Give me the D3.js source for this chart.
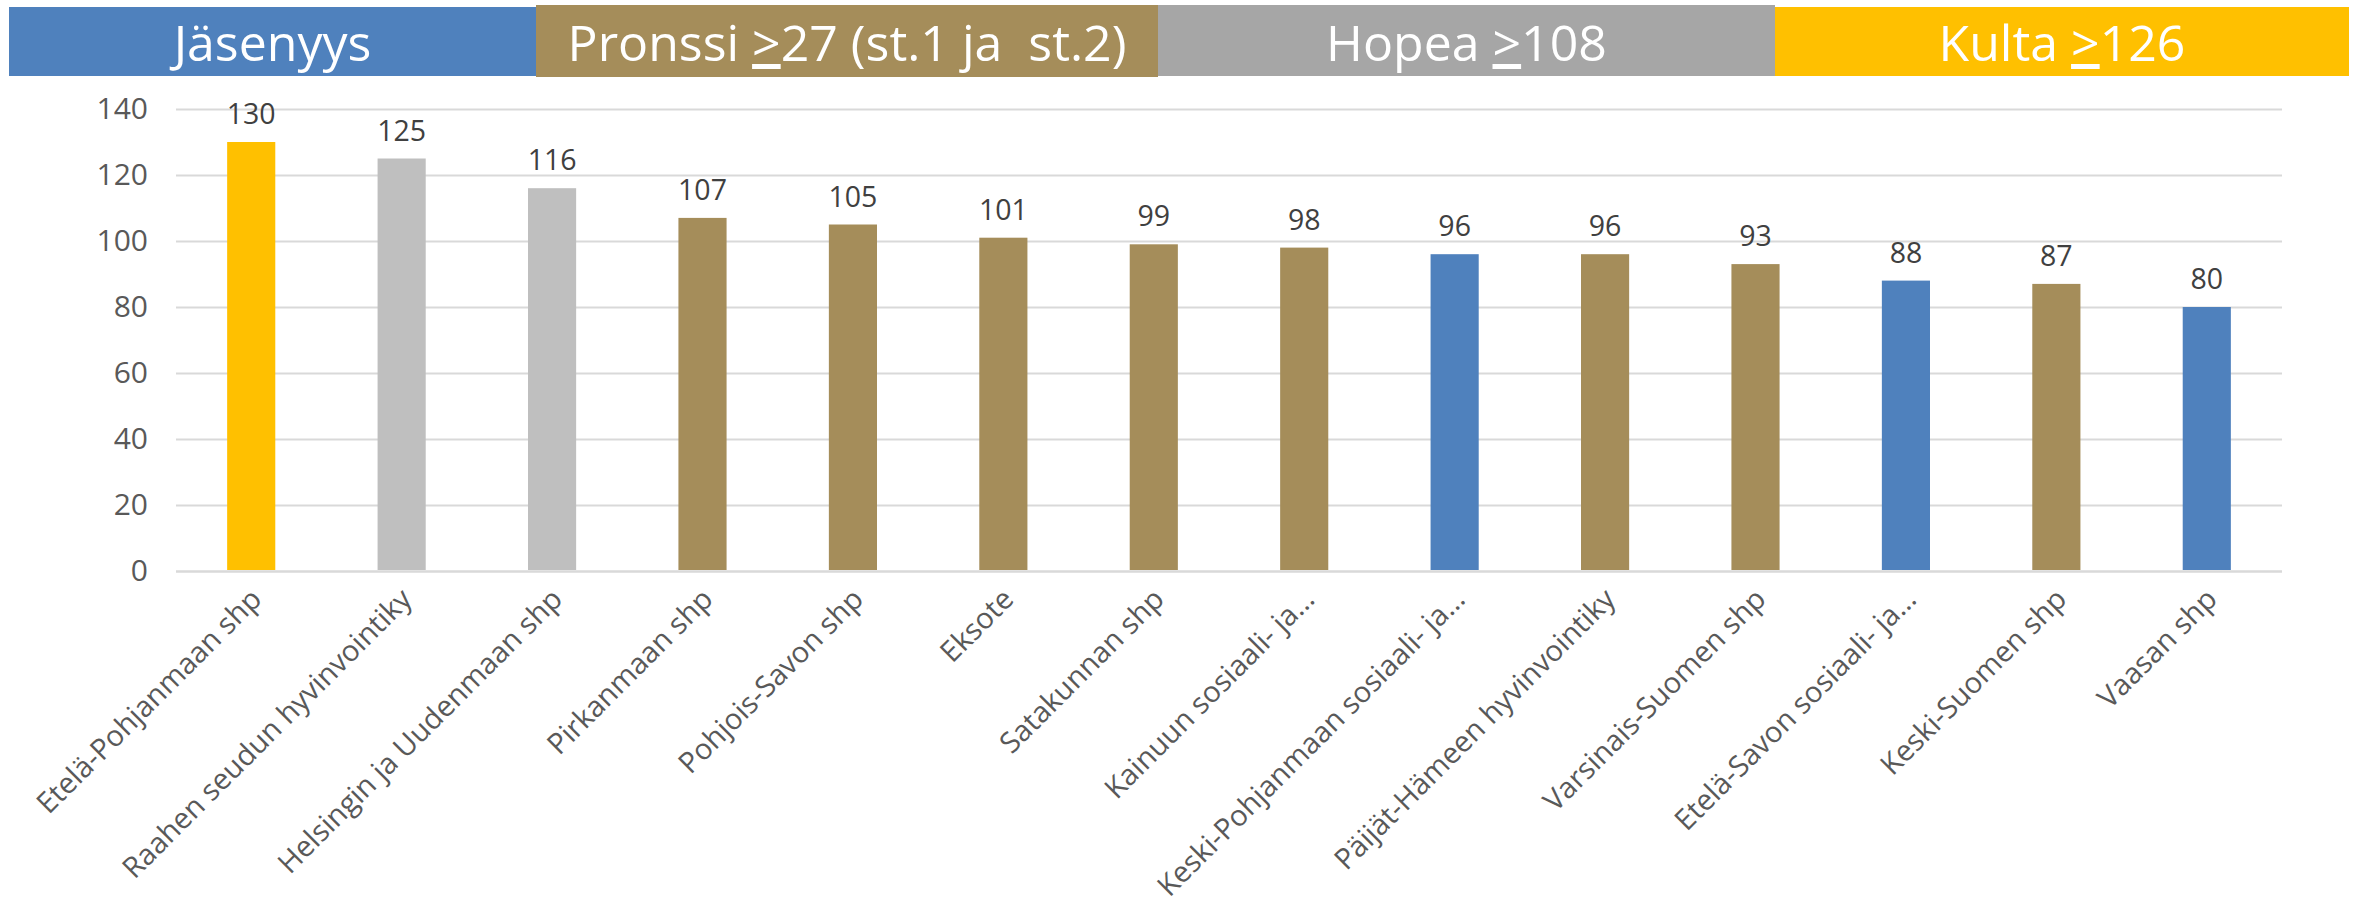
<!DOCTYPE html>
<html>
<head>
<meta charset="utf-8">
<script src="https://cdn.jsdelivr.net/npm/d3@7"></script>
<style>
  html, body { margin: 0; padding: 0; background: #ffffff; }
  svg { display: block; font-family: "Open Sans", "DejaVu Sans", sans-serif; }
</style>
</head>
<body>
<svg id="chart" width="2359" height="904"></svg>
<script>
// ---- data ----
const categories = [
  "Etelä-Pohjanmaan shp",
  "Raahen seudun hyvinvointiky",
  "Helsingin ja Uudenmaan shp",
  "Pirkanmaan shp",
  "Pohjois-Savon shp",
  "Eksote",
  "Satakunnan shp",
  "Kainuun sosiaali- ja…",
  "Keski-Pohjanmaan sosiaali- ja…",
  "Päijät-Hämeen hyvinvointiky",
  "Varsinais-Suomen shp",
  "Etelä-Savon sosiaali- ja…",
  "Keski-Suomen shp",
  "Vaasan shp"
];
const values = [130, 125, 116, 107, 105, 101, 99, 98, 96, 96, 93, 88, 87, 80];
const levels = ["Kulta", "Hopea", "Hopea", "Pronssi", "Pronssi", "Pronssi", "Pronssi",
                "Pronssi", "Jäsenyys", "Pronssi", "Pronssi", "Jäsenyys", "Pronssi", "Jäsenyys"];
const tickValues = [0, 20, 40, 60, 80, 100, 120, 140];

// header bands: level name, prefix, threshold, suffix
const headerLevels = ["Jäsenyys", "Pronssi", "Hopea", "Kulta"];
const headerPrefix = ["Jäsenyys", "Pronssi ", "Hopea ", "Kulta "];
const headerThreshold = ["", "27", "108", "126"];
const headerSuffix = ["", " (st.1 ja\u00A0\u00A0st.2)", "", ""];

// ---- styling / layout ----
const barColor = {
  "Kulta": "#FFC000",
  "Hopea": "#BFBFBF",
  "Pronssi": "#A58D5A",
  "Jäsenyys": "#4F81BD"
};
const headerColor = {
  "Jäsenyys": "#4F81BD",
  "Pronssi": "#A58D5A",
  "Hopea": "#A6A6A6",
  "Kulta": "#FFC000"
};
const headerBoxes = [
  { x0: 9, x1: 536, y0: 7, y1: 76 },
  { x0: 536, x1: 1158, y0: 5, y1: 77 },
  { x0: 1158, x1: 1775, y0: 5, y1: 76 },
  { x0: 1775, x1: 2349, y0: 7, y1: 76 }
];

const plotLeft = 176, plotRight = 2282, plotTop = 109, plotBottom = 571;

const svg = d3.select("#chart");

// header
const hdr = svg.append("g").attr("class", "header");
headerLevels.forEach((lv, i) => {
  const b = headerBoxes[i];
  hdr.append("rect")
    .attr("x", b.x0).attr("y", b.y0)
    .attr("width", b.x1 - b.x0).attr("height", b.y1 - b.y0)
    .attr("fill", headerColor[lv]);
  const t = hdr.append("text")
    .attr("x", (b.x0 + b.x1) / 2)
    .attr("y", 61)
    .attr("text-anchor", "middle")
    .attr("fill", "#ffffff")
    .attr("font-size", 50)
    .style("white-space", "pre");
  t.append("tspan").text(headerPrefix[i]);
  if (headerThreshold[i]) {
    t.append("tspan").attr("text-decoration", "underline").text(">");
    t.append("tspan").text(headerThreshold[i] + headerSuffix[i]);
  }
});

// scales
const x = d3.scaleBand()
  .domain(categories)
  .range([plotLeft, plotRight])
  .paddingInner(0.68)
  .paddingOuter(0.34);

const y = d3.scaleLinear()
  .domain([0, 140])
  .range([plotBottom, plotTop]);

// gridlines + y tick labels
const yAxis = d3.axisLeft(y)
  .tickValues(tickValues)
  .tickSize(-(plotRight - plotLeft))
  .tickPadding(28);

const gy = svg.append("g")
  .attr("transform", `translate(${plotLeft},0)`)
  .call(yAxis);
gy.select(".domain").remove();
gy.selectAll(".tick line")
  .attr("stroke", "#D9D9D9")
  .attr("stroke-width", d => d === 0 ? 2.5 : 2);
gy.selectAll(".tick text")
  .attr("fill", "#595959")
  .attr("font-size", 30)
  .attr("font-family", "'Open Sans', 'DejaVu Sans', sans-serif");

// bars
const data = categories.map((c, i) => ({ c, v: values[i], lv: levels[i] }));

svg.append("g").selectAll("rect")
  .data(data)
  .join("rect")
  .attr("x", d => x(d.c))
  .attr("y", d => y(d.v))
  .attr("width", x.bandwidth())
  .attr("height", d => y(0) - y(d.v) - 1)
  .attr("fill", d => barColor[d.lv]);

// value labels
svg.append("g").selectAll("text")
  .data(data)
  .join("text")
  .attr("x", d => x(d.c) + x.bandwidth() / 2)
  .attr("y", d => y(d.v) - 18)
  .attr("text-anchor", "middle")
  .attr("fill", "#404040")
  .attr("font-size", 28.5)
  .text(d => d.v);

// x axis labels (rotated)
const xAxis = d3.axisBottom(x).tickSize(0).tickPadding(0);
const gx = svg.append("g")
  .attr("transform", `translate(0,${plotBottom})`)
  .call(xAxis);
gx.select(".domain").remove();
gx.selectAll(".tick text")
  .attr("fill", "#595959")
  .attr("font-size", 29)
  .attr("font-family", "'Open Sans', 'DejaVu Sans', sans-serif")
  .attr("text-anchor", "end")
  .attr("dy", 0)
  .attr("y", 0)
  .attr("transform", "translate(12,30) rotate(-45)");
</script>
</body>
</html>
